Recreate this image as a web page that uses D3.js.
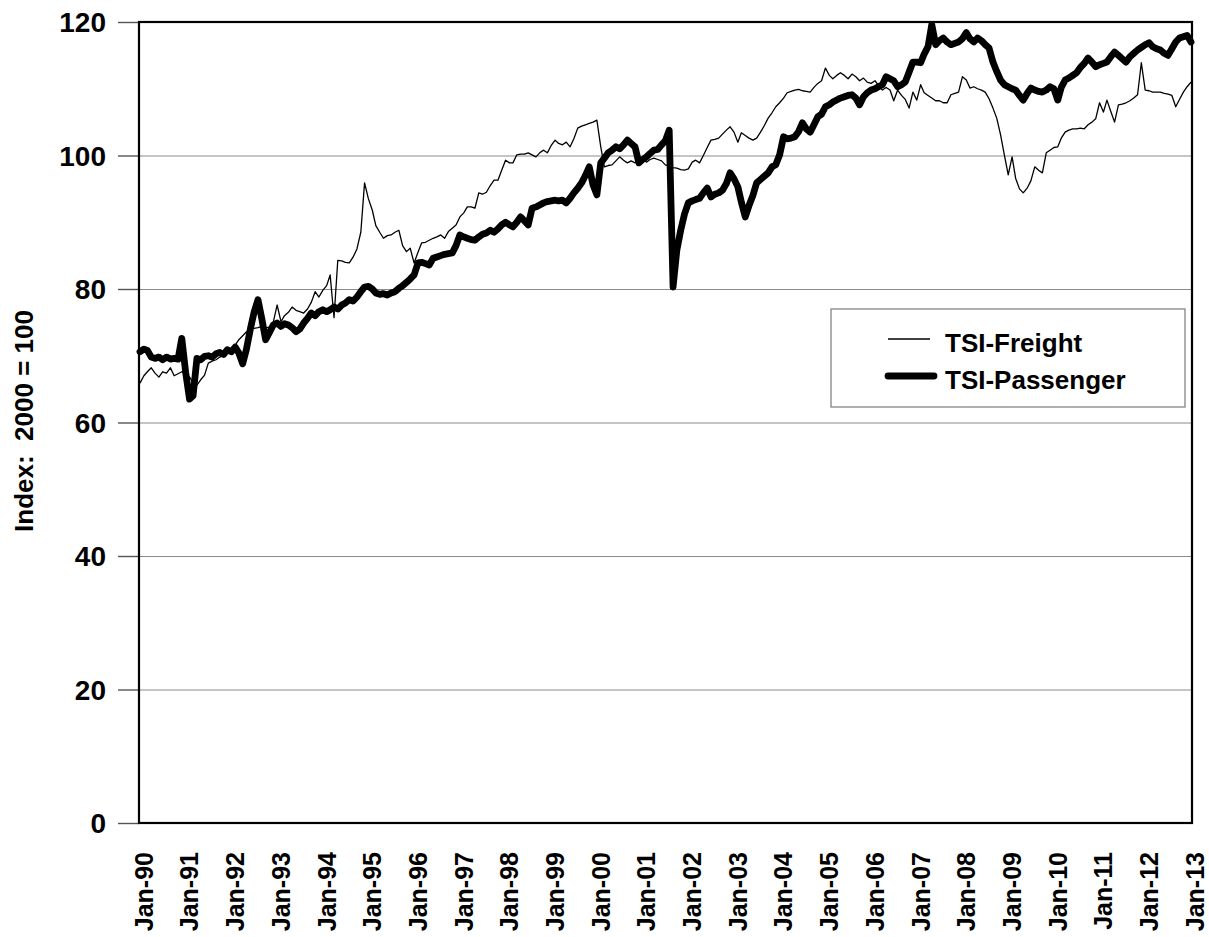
<!DOCTYPE html>
<html>
<head>
<meta charset="utf-8">
<script src="https://cdn.jsdelivr.net/npm/d3@7"></script>
<style>
  html, body { margin: 0; padding: 0; background: #fff; }
  svg { display: block; }
  text { font-family: "Liberation Sans", Arial, sans-serif; font-weight: bold; fill: #000; }
</style>
</head>
<body>
<svg id="chart" width="1209" height="937"></svg>
<script>
// Monthly index values (2000 = 100), January 1990 through January 2013
const startYear = 1990;
const endYear = 2013;

const freightByYear = [
  [65.9, 67.0, 67.6, 68.2, 67.4, 66.8, 67.6, 67.4, 68.2, 67.0, 67.3, 67.6],       // 1990
  [67.2, 66.8, 66.0, 65.6, 66.4, 67.1, 68.9, 69.2, 69.4, 69.8, 70.1, 70.4],       // 1991
  [70.8, 71.6, 72.4, 73.0, 73.6, 73.9, 74.1, 74.2, 74.4, 74.2, 74.3, 75.0],       // 1992
  [77.6, 75.1, 76.0, 76.5, 77.3, 76.8, 76.6, 76.4, 77.0, 78.0, 79.6, 78.8],       // 1993
  [79.8, 80.5, 82.1, 75.7, 84.3, 84.2, 84.0, 83.9, 84.8, 86.0, 88.5, 95.9],       // 1994
  [93.5, 91.8, 89.5, 88.5, 87.6, 88.0, 88.1, 88.5, 88.8, 86.5, 85.6, 86.1],       // 1995
  [83.9, 85.5, 86.9, 87.0, 87.3, 87.6, 87.8, 88.1, 87.6, 88.6, 89.1, 89.6],       // 1996
  [90.8, 91.4, 92.3, 92.3, 92.1, 94.4, 94.2, 94.5, 95.5, 96.3, 96.3, 97.8],       // 1997
  [99.3, 98.9, 98.9, 100.1, 100.2, 100.2, 100.4, 100.1, 99.8, 100.4, 100.8, 100.4], // 1998
  [101.5, 102.3, 101.8, 101.6, 102.0, 101.3, 102.5, 104.1, 104.4, 104.6, 104.8, 105.0], // 1999
  [105.3, 101.3, 98.3, 98.5, 98.6, 99.2, 99.8, 99.3, 98.9, 99.2, 98.9, 99.8],     // 2000
  [99.6, 99.0, 99.4, 99.6, 99.4, 99.2, 98.6, 98.4, 98.2, 98.1, 97.9, 97.8],       // 2001
  [98.0, 99.0, 99.3, 98.9, 100.0, 101.2, 102.3, 102.4, 102.6, 103.2, 103.8, 104.3], // 2002
  [103.5, 102.0, 103.4, 103.0, 102.6, 102.3, 102.6, 103.5, 104.5, 105.6, 106.4, 107.3], // 2003
  [107.9, 108.6, 109.4, 109.6, 109.8, 109.9, 109.7, 109.6, 109.5, 110.2, 110.8, 111.2], // 2004
  [113.1, 112.0, 111.5, 112.0, 112.4, 112.0, 111.5, 112.2, 111.8, 111.2, 111.6, 111.0], // 2005
  [110.8, 111.2, 110.5, 109.8, 110.2, 109.8, 108.2, 109.8, 109.0, 108.4, 107.1, 109.5], // 2006
  [108.3, 110.6, 109.4, 109.0, 108.6, 108.2, 108.2, 107.9, 107.9, 109.1, 109.3, 109.5], // 2007
  [111.8, 111.3, 110.1, 110.3, 110.0, 109.8, 109.5, 108.5, 107.1, 105.6, 103.1, 100.1], // 2008
  [97.1, 99.8, 96.6, 95.0, 94.4, 95.1, 96.2, 98.3, 97.8, 97.4, 100.4, 100.8],     // 2009
  [101.2, 101.3, 102.6, 103.5, 103.8, 104.0, 104.0, 104.1, 104.0, 104.6, 105.0, 105.5], // 2010
  [107.9, 106.5, 108.3, 106.6, 105.0, 107.6, 107.7, 107.9, 108.2, 108.6, 109.1, 113.9], // 2011
  [109.8, 109.7, 109.5, 109.5, 109.5, 109.3, 109.2, 109.0, 107.3, 108.4, 109.5, 110.3], // 2012
  [111.0]                                                                          // 2013
];

const passengerByYear = [
  [70.6, 71.0, 70.8, 69.8, 69.6, 69.8, 69.4, 69.8, 69.5, 69.6, 69.5, 72.6],       // 1990
  [67.5, 63.5, 64.0, 69.6, 69.4, 69.9, 70.0, 69.8, 70.3, 70.5, 70.2, 70.9],       // 1991
  [70.6, 71.3, 70.4, 68.8, 71.0, 74.0, 76.5, 78.4, 75.5, 72.4, 73.5, 74.6],       // 1992
  [74.9, 74.4, 74.8, 74.6, 74.2, 73.6, 74.0, 74.9, 75.6, 76.4, 76.0, 76.6],       // 1993
  [76.9, 76.6, 76.9, 77.3, 77.0, 77.6, 77.9, 78.4, 78.2, 78.8, 79.6, 80.3],       // 1994
  [80.4, 80.0, 79.4, 79.2, 79.3, 79.1, 79.4, 79.6, 80.1, 80.5, 81.0, 81.5],       // 1995
  [82.1, 83.9, 84.0, 83.8, 83.6, 84.6, 84.8, 85.0, 85.2, 85.3, 85.4, 86.5],       // 1996
  [88.1, 87.8, 87.6, 87.4, 87.3, 87.8, 88.2, 88.4, 88.8, 88.5, 89.0, 89.6],       // 1997
  [90.0, 89.6, 89.3, 90.0, 90.8, 90.2, 89.6, 92.1, 92.3, 92.6, 92.9, 93.1],       // 1998
  [93.2, 93.3, 93.2, 93.3, 92.9, 93.6, 94.4, 95.1, 95.9, 97.0, 98.3, 95.6],       // 1999
  [94.1, 98.9, 99.6, 100.4, 100.8, 101.3, 101.0, 101.6, 102.3, 101.8, 101.3, 98.9], // 2000
  [99.4, 99.8, 100.3, 100.8, 100.9, 101.6, 102.2, 103.8, 80.3, 85.8, 88.8, 91.2], // 2001
  [92.9, 93.2, 93.4, 93.6, 94.4, 95.1, 93.8, 94.2, 94.4, 94.8, 95.8, 97.4],       // 2002
  [96.5, 95.3, 93.0, 90.8, 92.5, 94.0, 95.9, 96.4, 96.9, 97.4, 98.3, 98.6],       // 2003
  [100.1, 102.8, 102.5, 102.6, 102.8, 103.6, 104.9, 104.0, 103.5, 104.6, 105.8, 106.2], // 2004
  [107.3, 107.6, 108.0, 108.3, 108.6, 108.8, 109.0, 109.1, 108.6, 107.6, 108.8, 109.4], // 2005
  [109.8, 110.0, 110.3, 110.6, 111.8, 111.5, 111.2, 110.3, 110.6, 111.0, 112.5, 114.0], // 2006
  [114.0, 113.9, 115.2, 116.3, 119.6, 116.6, 117.2, 117.6, 117.0, 116.6, 116.8, 117.0], // 2007
  [117.5, 118.4, 117.5, 117.0, 117.6, 117.2, 116.6, 116.1, 114.0, 112.6, 111.3, 110.6], // 2008
  [110.3, 110.0, 109.8, 109.0, 108.3, 109.3, 110.1, 109.8, 109.6, 109.5, 109.8, 110.3], // 2009
  [110.0, 108.3, 110.2, 111.3, 111.6, 112.0, 112.4, 113.2, 113.8, 114.6, 114.0, 113.3], // 2010
  [113.6, 113.8, 114.0, 114.8, 115.5, 115.0, 114.5, 114.0, 114.8, 115.3, 115.8, 116.2], // 2011
  [116.6, 116.9, 116.3, 116.0, 115.8, 115.3, 115.0, 116.0, 117.0, 117.6, 117.8, 118.0], // 2012
  [117.0]                                                                          // 2013
];

const yTicks = [0, 20, 40, 60, 80, 100, 120];
const seriesNames = ["TSI-Freight", "TSI-Passenger"];
const yAxisTitle = "Index:  2000 = 100";

// Flatten year rows into dated monthly points
function toPoints(rows) {
  const pts = [];
  rows.forEach((row, yi) => {
    row.forEach((v, m) => pts.push({ date: new Date(startYear + yi, m, 1), value: v }));
  });
  return pts;
}
const freight = toPoints(freightByYear);
const passenger = toPoints(passengerByYear);

const svg = d3.select("#chart");
const plot = { left: 139, top: 22, right: 1192, bottom: 823 };

const x = d3.scaleTime()
  .domain([new Date(startYear, 0, 1), new Date(endYear, 0, 1)])
  .range([140, 1191]);
const y = d3.scaleLinear().domain([0, 120]).range([plot.bottom, plot.top]);

// Horizontal gridlines with short outer tick marks
const yAxis = d3.axisLeft(y)
  .tickValues(yTicks)
  .tickSize(-(plot.right - plot.left))
  .tickFormat("");
const gGrid = svg.append("g").attr("transform", `translate(${plot.left},0)`).call(yAxis);
gGrid.select(".domain").remove();
gGrid.selectAll(".tick line").attr("stroke", "#8c8c8c").attr("stroke-width", 1.2);

const gTickOut = svg.append("g").attr("transform", `translate(${plot.left},0)`)
  .call(d3.axisLeft(y).tickValues(yTicks).tickSize(21).tickFormat(""));
gTickOut.select(".domain").remove();
gTickOut.selectAll(".tick line").attr("stroke", "#555").attr("stroke-width", 1.4);

// Y tick labels
svg.append("g").selectAll("text")
  .data(yTicks)
  .join("text")
  .attr("x", 106)
  .attr("y", d => y(d))
  .attr("dy", "0.36em")
  .attr("text-anchor", "end")
  .style("font-size", "28px")
  .text(d => d);

// Y axis title (keeps the double space after the colon)
svg.append("text")
  .attr("transform", "translate(33,421) rotate(-90)")
  .attr("text-anchor", "middle")
  .style("font-size", "26px")
  .style("white-space", "pre")
  .attr("xml:space", "preserve")
  .text(yAxisTitle);

// X tick labels, one per January
const xTicks = d3.timeYear.range(new Date(startYear, 0, 1), new Date(endYear, 0, 2));
const fmt = d3.timeFormat("%b-%y");
svg.append("g").selectAll("text")
  .data(xTicks)
  .join("text")
  .attr("transform", d => `translate(${x(d) + 4},852) rotate(-90)`)
  .attr("dy", "0.35em")
  .attr("text-anchor", "end")
  .style("font-size", "25px")
  .text(d => fmt(d));

// Series lines
const line = d3.line().x(d => x(d.date)).y(d => y(d.value));
svg.append("path")
  .datum(freight)
  .attr("d", line)
  .attr("fill", "none")
  .attr("stroke", "#000")
  .attr("stroke-width", 1.3)
  .attr("stroke-linejoin", "round");
svg.append("path")
  .datum(passenger)
  .attr("d", line)
  .attr("fill", "none")
  .attr("stroke", "#000")
  .attr("stroke-width", 6.8)
  .attr("stroke-linejoin", "round")
  .attr("stroke-linecap", "round");

// Plot frame
svg.append("rect")
  .attr("x", plot.left).attr("y", plot.top)
  .attr("width", plot.right - plot.left).attr("height", plot.bottom - plot.top)
  .attr("fill", "none").attr("stroke", "#000").attr("stroke-width", 2.2);

// Legend
const lg = svg.append("g");
lg.append("rect")
  .attr("x", 831).attr("y", 309).attr("width", 354).attr("height", 98)
  .attr("fill", "#fff").attr("stroke", "#7a7a7a").attr("stroke-width", 1.2);
const legendRows = [
  { name: seriesNames[0], w: 1.3, ly: 339, ty: 352, x2: 930 },
  { name: seriesNames[1], w: 6.8, ly: 376, ty: 389, x2: 934 }
];
legendRows.forEach(r => {
  lg.append("line")
    .attr("x1", 888).attr("x2", r.x2).attr("y1", r.ly).attr("y2", r.ly)
    .attr("stroke", "#000").attr("stroke-width", r.w).attr("stroke-linecap", r.w > 2 ? "round" : "butt");
  lg.append("text")
    .attr("x", 945).attr("y", r.ty)
    .style("font-size", "26px")
    .text(r.name);
});
</script>
</body>
</html>
